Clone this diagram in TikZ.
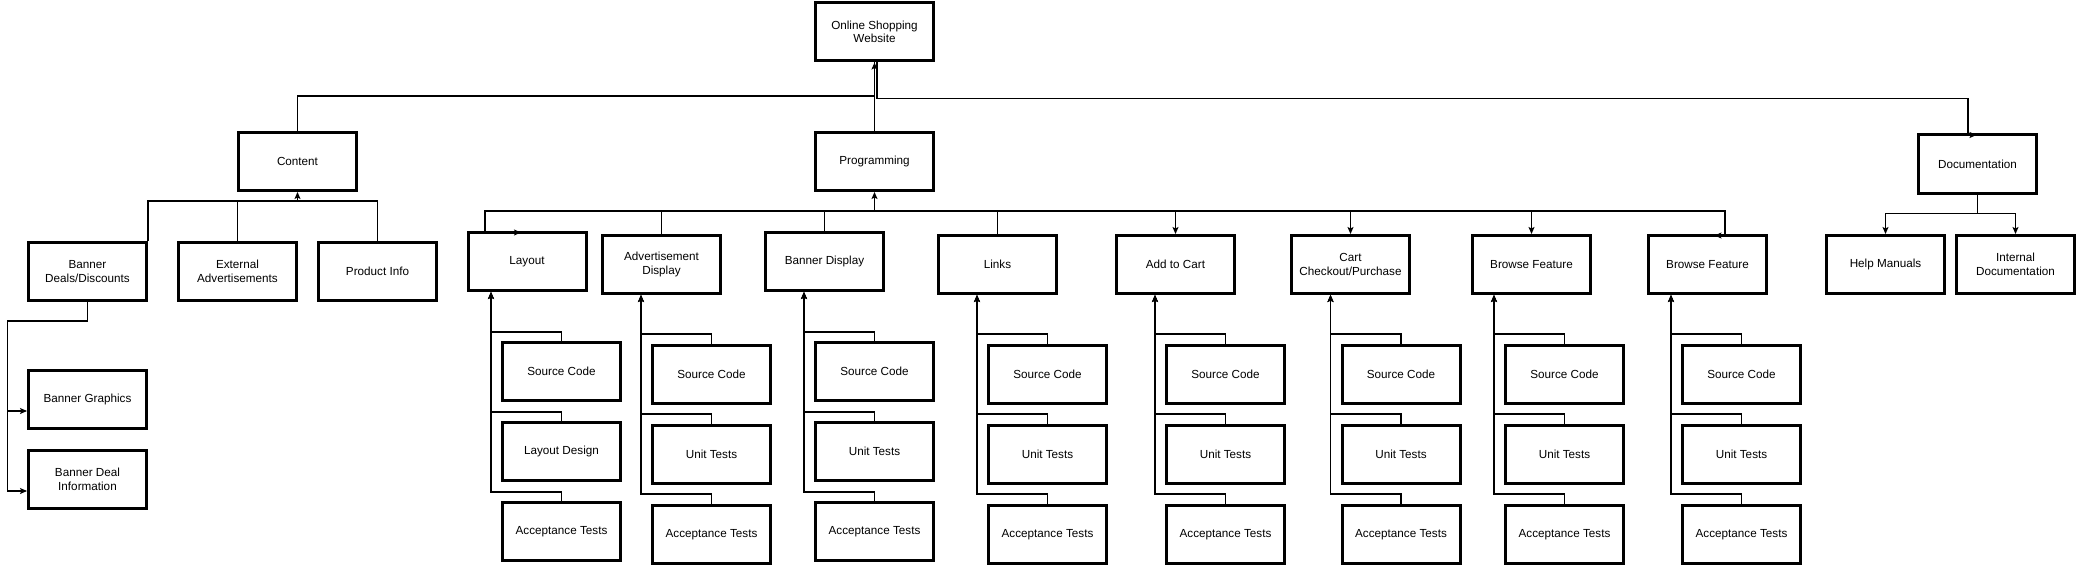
\documentclass[tikz,border=0pt]{standalone}
\usepackage{fontspec}
\setmainfont{Liberation Sans}
\usetikzlibrary{arrows.meta,positioning}

\begin{document}
\begin{tikzpicture}[
    x=1pt, y=-1pt,
    box/.style={rectangle, draw, line width=3pt, minimum width=118pt, minimum height=58pt, inner sep=2pt, align=center, font=\fontsize{11.7}{13.6}\selectfont},
    link/.style={line width=1.1pt},
    arrow/.style={link, -{Stealth[length=7pt, width=6pt, inset=1.5pt]}}
]
\useasboundingbox (0,0) rectangle (2077,567);

% top levels
\node[box] (web) at (874.5,32) {Online Shopping\\Website};
\node[box] (content) at (297.5,161.5) {Content};
\node[box] (prog) at (874.5,161.5) {Programming};
\node[box] (docs) at (1977.5,164) {Documentation};

% content
\node[box] (deals) at (87.5,271.5) {Banner\\Deals/Discounts};
\node[box, right=29pt of deals] (extads) {External\\Advertisements};
\node[box, right=19pt of extads] (prodinfo) {Product Info};
\node[box, below=67pt of deals] (graphics) {Banner Graphics};
\node[box, below=19pt of graphics] (dealinfo) {Banner Deal\\Information};

% programming
\node[box] (layout) at (527,261.5) {Layout};
\node[box] (adisp) at (661.5,264.5) {Advertisement\\Display};
\node[box] (bdisp) at (824.5,261.5) {Banner Display};
\node[box] (links) at (997.5,264.5) {Links};
\node[box, right=57pt of links] (addcart) {Add to Cart};
\node[box, right=54pt of addcart] (checkout) {Cart\\Checkout/Purchase};
\node[box, right=60pt of checkout] (browsea) {Browse Feature};
\node[box, right=55pt of browsea] (browseb) {Browse Feature};

% documentation
\node[box, right=57pt of browseb] (helpman) {Help Manuals};
\node[box, right=9pt of helpman] (intdoc) {Internal\\Documentation};

% programming sub-tasks
\node[box] (laysrc) at (561.5,371.5) {Source Code};
\node[box, below=19pt of laysrc] (laydes) {Layout Design};
\node[box, below=19pt of laydes] (layacc) {Acceptance Tests};
\node[box] (adsrc) at (711.5,374.5) {Source Code};
\node[box, below=19pt of adsrc] (adunit) {Unit Tests};
\node[box, below=19pt of adunit] (adacc) {Acceptance Tests};
\node[box] (bdsrc) at (874.5,371.5) {Source Code};
\node[box, below=19pt of bdsrc] (bdunit) {Unit Tests};
\node[box, below=19pt of bdunit] (bdacc) {Acceptance Tests};
\node[box] (lnsrc) at (1047.5,374.5) {Source Code};
\node[box, below=19pt of lnsrc] (lnunit) {Unit Tests};
\node[box, below=19pt of lnunit] (lnacc) {Acceptance Tests};
\node[box] (acsrc) at (1225.5,374.5) {Source Code};
\node[box, below=19pt of acsrc] (acunit) {Unit Tests};
\node[box, below=19pt of acunit] (acacc) {Acceptance Tests};
\node[box] (cosrc) at (1401,374.5) {Source Code};
\node[box, below=19pt of cosrc] (counit) {Unit Tests};
\node[box, below=19pt of counit] (coacc) {Acceptance Tests};
\node[box] (basrc) at (1564.5,374.5) {Source Code};
\node[box, below=19pt of basrc] (baunit) {Unit Tests};
\node[box, below=19pt of baunit] (baacc) {Acceptance Tests};
\node[box] (bbsrc) at (1741.5,374.5) {Source Code};
\node[box, below=19pt of bbsrc] (bbunit) {Unit Tests};
\node[box, below=19pt of bbunit] (bbacc) {Acceptance Tests};

% bus points
\coordinate[below=9pt of content] (cbus);
\coordinate[below=19pt of prog] (pbus);
\coordinate[below=19pt of docs] (dbus);
\coordinate (laytip) at ([xshift=-10pt]laysrc.west |- layout.south);
\coordinate (adtip) at ([xshift=-10pt]adsrc.west |- adisp.south);
\coordinate (bdtip) at ([xshift=-10pt]bdsrc.west |- bdisp.south);
\coordinate (lntip) at ([xshift=-10pt]lnsrc.west |- links.south);
\coordinate (actip) at ([xshift=-10pt]acsrc.west |- addcart.south);
\coordinate (cotip) at ([xshift=-10pt]cosrc.west |- checkout.south);
\coordinate (batip) at ([xshift=-10pt]basrc.west |- browsea.south);
\coordinate (bbtip) at ([xshift=-10pt]bbsrc.west |- browseb.south);

% top connectors
\draw[link] (content.north) -- ++(0,-35) -| (web.south);
\draw[arrow] (prog.north) -- (web.south);
\draw[arrow] ([xshift=2.5pt]web.south) -- ++(0,36) -| ([xshift=-9.5pt,yshift=-1.5pt]docs.north) -- ([xshift=-1pt,yshift=-1.5pt]docs.north);

% content connectors
\draw[link] (deals.north east) |- (cbus);
\draw[link] (extads.north) |- (cbus);
\draw[link] (prodinfo.north) |- (cbus);
\draw[arrow] (cbus) -- (content.south);
\draw[arrow] (deals.south) -- ++(0,19) -- ++(-80,0) |- ([yshift=-11.5pt]graphics.west);
\draw[arrow] (deals.south) -- ++(0,19) -- ++(-80,0) |- ([yshift=-11.5pt]dealinfo.west);

% programming connectors
\draw[arrow] (pbus) -- (prog.south);
\draw[arrow] (pbus) -| ([xshift=-42pt,yshift=-1.5pt]layout.north) -- ([xshift=-6pt,yshift=-1.5pt]layout.north);
\draw[link] (pbus) -| (adisp.north);
\draw[link] (pbus) -| (bdisp.north);
\draw[link] (pbus) -| (links.north);
\draw[arrow] (pbus) -| (addcart.north);
\draw[arrow] (pbus) -| (checkout.north);
\draw[arrow] (pbus) -| (browsea.north);
\draw[arrow] (pbus) -| ([xshift=17.5pt,yshift=-1.5pt]browseb.north) -- ([xshift=7pt,yshift=-1.5pt]browseb.north);

% sub-task connectors
\draw[arrow] (laysrc.north) -- ++(0,-9) -| (laytip);
\draw[arrow] (laydes.north) -- ++(0,-9) -| (laytip);
\draw[arrow] (layacc.north) -- ++(0,-9) -| (laytip);
\draw[arrow] (adsrc.north) -- ++(0,-10) -| (adtip);
\draw[arrow] (adunit.north) -- ++(0,-10) -| (adtip);
\draw[arrow] (adacc.north) -- ++(0,-10) -| (adtip);
\draw[arrow] (bdsrc.north) -- ++(0,-9) -| (bdtip);
\draw[arrow] (bdunit.north) -- ++(0,-9) -| (bdtip);
\draw[arrow] (bdacc.north) -- ++(0,-9) -| (bdtip);
\draw[arrow] (lnsrc.north) -- ++(0,-10) -| (lntip);
\draw[arrow] (lnunit.north) -- ++(0,-10) -| (lntip);
\draw[arrow] (lnacc.north) -- ++(0,-10) -| (lntip);
\draw[arrow] (acsrc.north) -- ++(0,-10) -| (actip);
\draw[arrow] (acunit.north) -- ++(0,-10) -| (actip);
\draw[arrow] (acacc.north) -- ++(0,-10) -| (actip);
\draw[arrow] (cosrc.north) -- ++(0,-10) -| (cotip);
\draw[arrow] (counit.north) -- ++(0,-10) -| (cotip);
\draw[arrow] (coacc.north) -- ++(0,-10) -| (cotip);
\draw[arrow] (basrc.north) -- ++(0,-10) -| (batip);
\draw[arrow] (baunit.north) -- ++(0,-10) -| (batip);
\draw[arrow] (baacc.north) -- ++(0,-10) -| (batip);
\draw[arrow] (bbsrc.north) -- ++(0,-10) -| (bbtip);
\draw[arrow] (bbunit.north) -- ++(0,-10) -| (bbtip);
\draw[arrow] (bbacc.north) -- ++(0,-10) -| (bbtip);

% documentation connectors
\draw[link] (docs.south) -- (dbus);
\draw[arrow] (dbus) -| (helpman.north);
\draw[arrow] (dbus) -| (intdoc.north);

\end{tikzpicture}
\end{document}
